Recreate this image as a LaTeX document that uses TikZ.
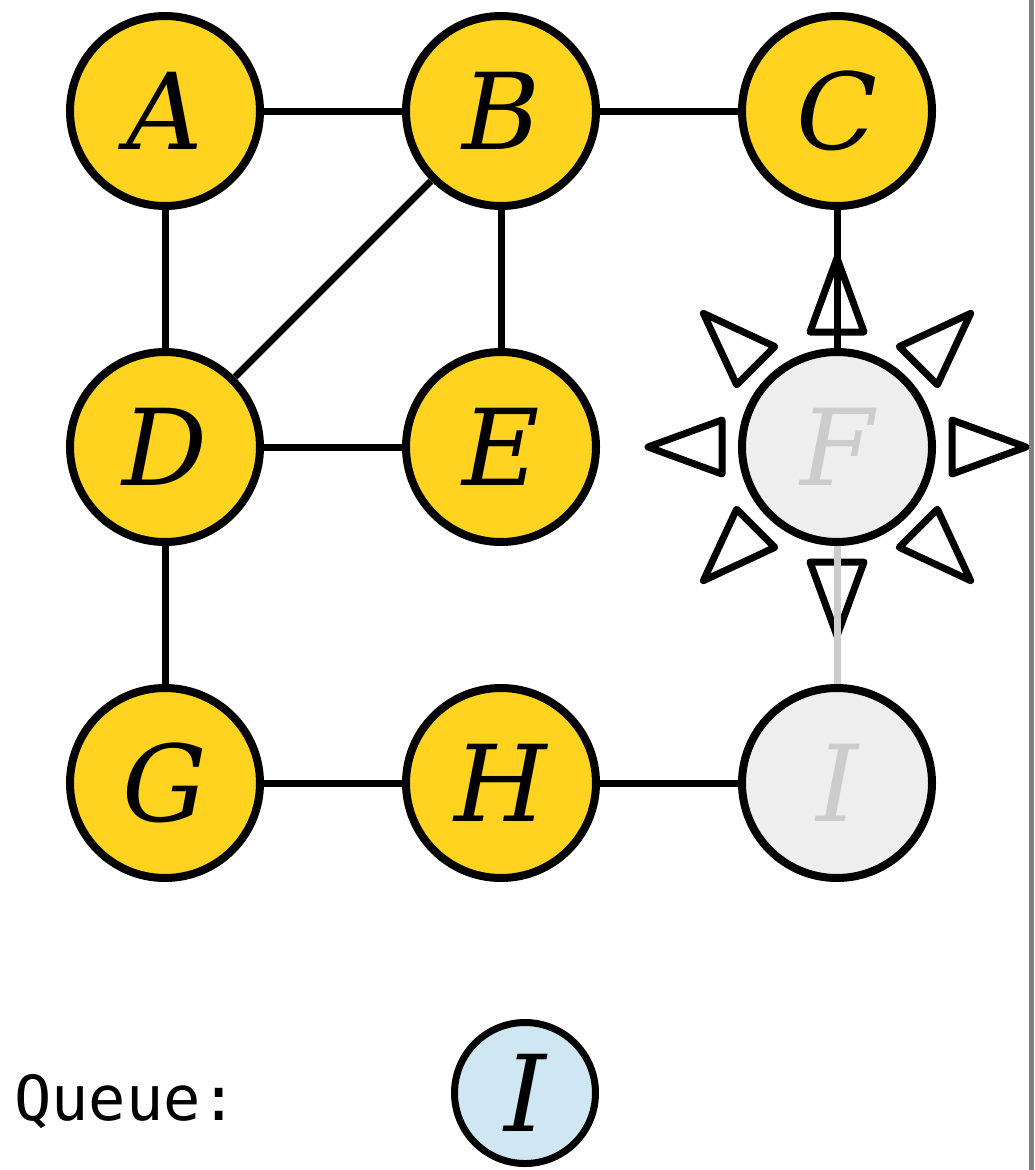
\documentclass[tikz,border=0pt]{standalone}
\usepackage{fontspec}
\setmainfont{DejaVu Serif}
\newfontfamily\qmono{DejaVu Sans Mono}
\usetikzlibrary{calc}
\definecolor{nodeyellow}{RGB}{255,211,32}
\definecolor{unvfill}{RGB}{238,238,238}
\definecolor{unvtext}{RGB}{204,204,204}
\definecolor{queueblue}{RGB}{207,230,243}
\definecolor{sidegray}{RGB}{128,128,128}
\tikzset{
  vtx/.style={circle, draw=black, line width=8pt, minimum size=190pt, inner sep=0pt,
    font=\fontsize{106}{120}\selectfont\itshape},
  seen/.style={vtx, fill=nodeyellow, text=black},
  unseen/.style={vtx, fill=unvfill, text=unvtext},
  qnode/.style={circle, draw=black, line width=7pt, minimum size=141pt, inner sep=0pt,
    fill=queueblue, font=\fontsize{106}{120}\selectfont\itshape},
  edge/.style={line width=7pt, draw=black},
  grayedge/.style={line width=7pt, draw=unvtext},
  tri/.style={draw=black, fill=white, line width=7pt, line join=round}
}
\begin{document}
\begin{tikzpicture}[x=1pt,y=-1pt]
\useasboundingbox (0,0) rectangle (1034,1170);
\fill[white] (0,0) rectangle (1034,1170);

\node[seen] (A) at (165,111) {A};
\node[seen] (B) at (501,111) {B};
\node[seen] (C) at (837,111) {C};
\node[seen] (D) at (165,447) {D};
\node[seen] (E) at (501,447) {E};
\node[unseen] (F) at (837,447) {F};
\node[seen] (G) at (165,783) {G};
\node[seen] (H) at (501,783) {H};
\node[unseen] (I) at (837,783) {I};

\foreach \a in {0,45,...,315}{
  \draw[tri, shift={(F)}, rotate=\a] (189,0) -- (115,27) -- (115,-27) -- cycle;
}

\draw[edge] (A) -- (B);
\draw[edge] (B) -- (C);
\draw[edge] (A) -- (D);
\draw[edge] (B) -- (D);
\draw[edge] (B) -- (E);
\draw[edge] (D) -- (E);
\draw[edge] (D) -- (G);
\draw[edge] (G) -- (H);
\draw[edge] (H) -- (I);
\draw[edge] (C) -- (F);
\draw[grayedge] (F) -- (I);

\fill[sidegray] (1029,0) rectangle (1034,1170);

\node[anchor=base west, inner sep=0pt, font=\qmono\fontsize{62}{72}\selectfont] (qlabel) at (14,1120) {Queue:};
\node[qnode] (Q) at (525,1093) {I};
\end{tikzpicture}
\end{document}
